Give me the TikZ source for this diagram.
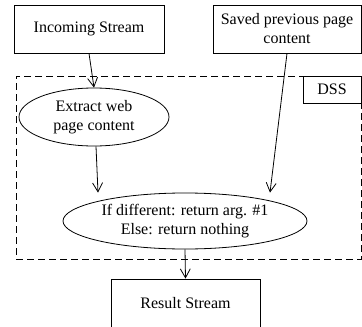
\documentclass[tikz,border=0pt]{standalone}
\usepackage{fontspec}
\setmainfont{Liberation Serif}
\usetikzlibrary{arrows.meta,shapes.geometric}

\tikzset{
  base/.style={draw=black, line width=0.8pt, inner sep=0pt, align=center,
               font=\fontsize{16}{19}\selectfont},
  stepbox/.style={base, rectangle},
  stepoval/.style={base, ellipse},
  region/.style={draw=black, line width=0.8pt, dash pattern=on 7pt off 4pt, inner sep=0pt},
  flow/.style={draw=black, line width=0.8pt, -{Straight Barb[length=9pt,width=10pt]}}
}

\begin{document}
\begin{tikzpicture}[x=1pt,y=-1pt]
  \useasboundingbox (0,0) rectangle (362,327);
  \clip (0,0) rectangle (362,327);

  % inputs
  \node[stepbox, minimum width=150, minimum height=48] (inc) at (89,29) {Incoming Stream};
  \node[stepbox, minimum width=148, minimum height=48] (sav) at (287,29) {Saved previous page\\content};

  % DSS region and its tag
  \node[region, minimum width=345, minimum height=183] (dss) at (188.5,167.5) {};
  \node[stepbox, anchor=north east, minimum width=58, minimum height=27] (dsstag) at (dss.north east) {DSS};

  % processing steps
  \node[stepoval, minimum width=150, minimum height=58] (ext) at (94,117) {Extract web\\page content};
  \node[stepoval, minimum width=244, minimum height=56] (cmp) at (185,221) {If different: return arg. \#1\\Else: return nothing};

  % output
  \node[stepbox, minimum width=149, minimum height=49] (res) at (185.5,303.5) {Result Stream};

  % connectors
  \draw[flow] (inc.south) -- (ext.north);
  \draw[flow] ([xshift=2pt]ext.south) -- ([xshift=4pt]ext.south |- cmp.north);
  \draw[flow] (sav.south) -- ([xshift=85pt]cmp.north);
  \draw[flow] (cmp.south) -- (res.north);
\end{tikzpicture}
\end{document}
